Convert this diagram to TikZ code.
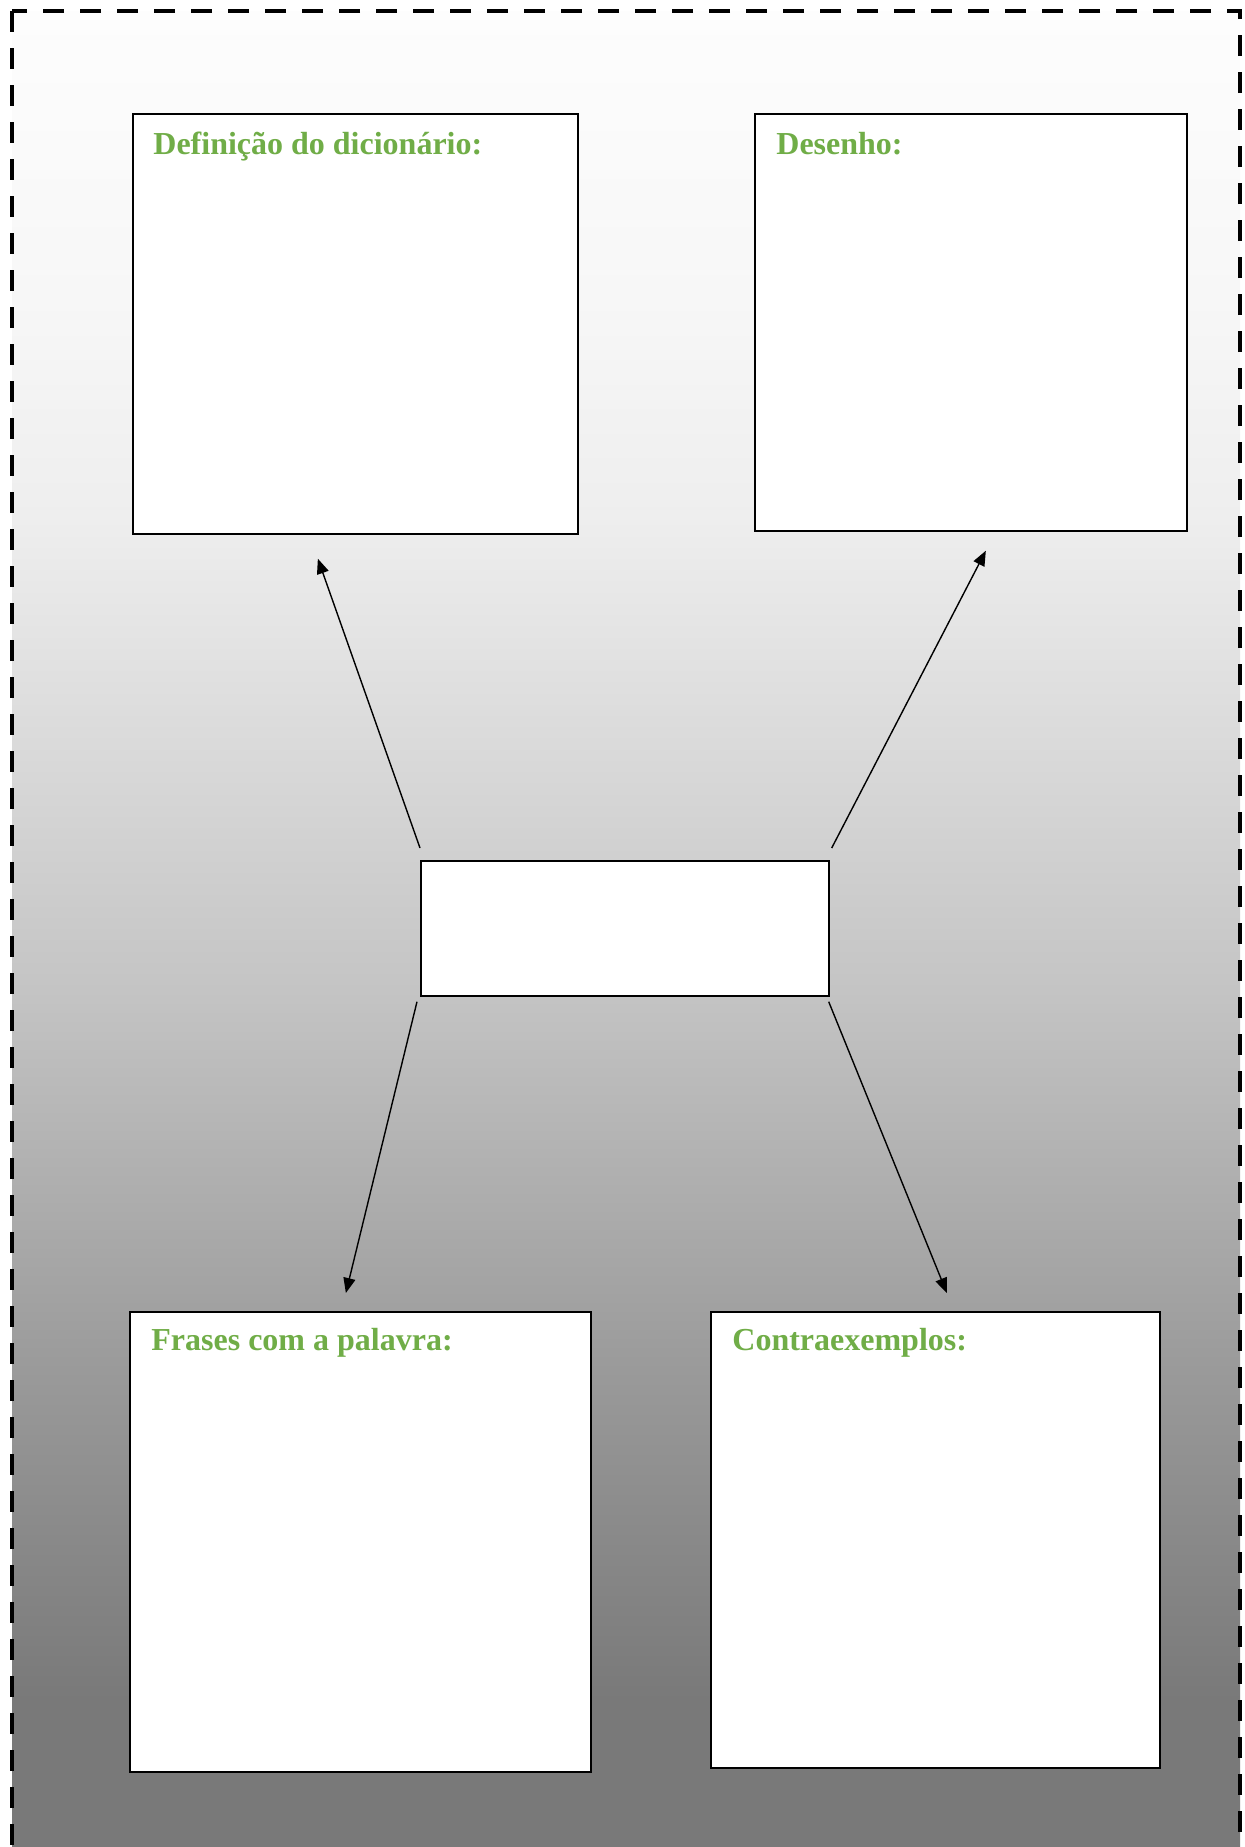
\documentclass[tikz,border=0pt]{standalone}
\usepackage{fontspec}
\setmainfont{Liberation Serif}
\usetikzlibrary{arrows.meta,calc}

\definecolor{titlegreen}{RGB}{112,173,71}
\definecolor{gA}{RGB}{121,121,121}
\definecolor{gB}{RGB}{153,153,153}
\definecolor{gC}{RGB}{196,196,196}
\definecolor{gD}{RGB}{238,238,238}
\definecolor{gE}{RGB}{247,247,247}
\definecolor{gF}{RGB}{253,253,253}
\pgfdeclareverticalshading{pagegrad}{100bp}{color(0bp)=(gA); color(29.8bp)=(gA); color(38.4bp)=(gB); color(48.8bp)=(gC); color(61.4bp)=(gD); color(67.3bp)=(gE); color(75bp)=(gF); color(100bp)=(gF)}

\tikzset{
  card/.style={draw=black,line width=0.85pt,fill=white,anchor=north west,inner sep=0pt},
  cardtitle/.style={anchor=base west,inner sep=0pt,text=titlegreen,font=\fontsize{16}{19}\selectfont\bfseries},
  link/.style={-{Triangle[length=7.5pt,width=6pt]},line width=0.7pt,black},
}

\begin{document}
\begin{tikzpicture}[x=0.5pt,y=-0.5pt]
  \useasboundingbox (0,0) rectangle (1245,1847);
  % page background and dashed frame
  \shade[shading=pagegrad] (12,11) rectangle (1240,1880);
  \draw[line width=2pt,dash pattern=on 10.5pt off 8pt] (12,11) rectangle (1240,1880);

  \node[card,minimum width=222.5pt,minimum height=210pt] (def) at (132,113) {};
  \node[card,minimum width=216pt,minimum height=208.5pt] (des) at (754,113) {};
  \node[card,minimum width=204pt,minimum height=67.5pt] (mid) at (420,860) {};
  \node[card,minimum width=230.5pt,minimum height=230pt] (fra) at (129,1311) {};
  \node[card,minimum width=224.5pt,minimum height=228pt] (con) at (710,1311) {};

  \node[cardtitle] (defT) at ([xshift=10.5pt,yshift=-20.5pt]def.north west) {Definição do dicionário:};
  \node[cardtitle] (desT) at ([xshift=11pt,yshift=-20.5pt]des.north west) {Desenho:};
  \node[cardtitle] (fraT) at ([xshift=11pt,yshift=-19.5pt]fra.north west) {Frases com a palavra:};
  \node[cardtitle] (conT) at ([xshift=11pt,yshift=-19.5pt]con.north west) {Contraexemplos:};

  \draw[link] ([yshift=6pt]mid.north west) -- ([xshift=-18.75pt,yshift=-12pt]def.south);
  \draw[link] ([xshift=1pt,yshift=6pt]mid.north east) -- ([xshift=7.5pt,yshift=-9.5pt]des.south);
  \draw[link] ([xshift=-1.5pt,yshift=-2.5pt]mid.south west) -- ([xshift=-7.25pt,yshift=9pt]fra.north);
  \draw[link] ([xshift=-0.5pt,yshift=-2.5pt]mid.south east) -- ([xshift=5.75pt,yshift=9pt]con.north);
\end{tikzpicture}
\end{document}
